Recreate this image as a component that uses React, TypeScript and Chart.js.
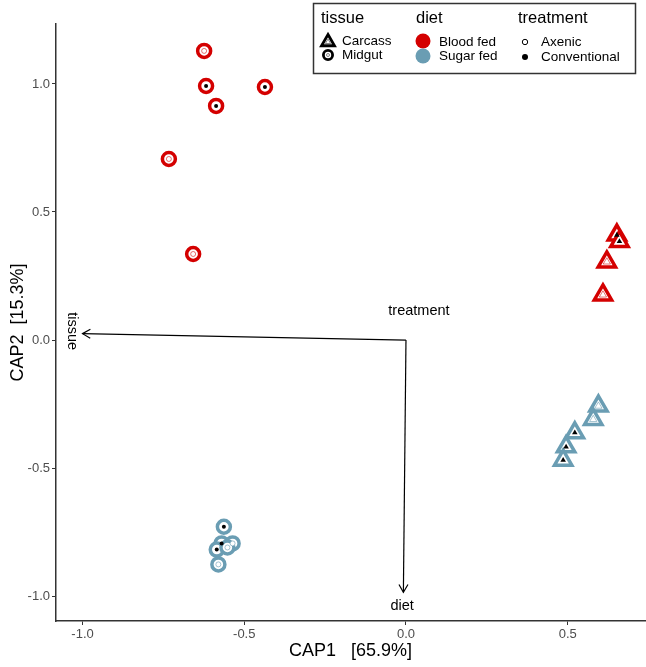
import React, { useEffect, useRef } from 'react';
import { Chart, registerables } from 'chart.js';

Chart.register(...registerables);

const RED = '#D40000';
const RED_LIGHT = 'rgba(212,0,0,0.55)';
const BLUE = '#6A9DB3';
const BLUE_LIGHT = 'rgba(106,157,179,0.6)';
const FONT = "'Liberation Sans', Arial, Helvetica, sans-serif";

// Axis ticks
const xTicks = [-1.0, -0.5, 0.0, 0.5];
const yTicks = [-1.0, -0.5, 0.0, 0.5, 1.0];

// Midgut, blood fed
const midgutBloodX = [-0.624, -0.618, -0.436, -0.587, -0.733, -0.658];
const midgutBloodY = [1.129, 0.992, 0.988, 0.914, 0.707, 0.336];
const midgutBloodTreatment = ['Axenic', 'Conventional', 'Conventional', 'Conventional', 'Axenic', 'Axenic'];

// Carcass, blood fed
const carcassBloodX = [0.652, 0.66, 0.621, 0.609];
const carcassBloodY = [0.41, 0.385, 0.305, 0.176];
const carcassBloodTreatment = ['Conventional', 'Conventional', 'Axenic', 'Axenic'];

// Carcass, sugar fed
const carcassSugarX = [0.595, 0.579, 0.522, 0.495, 0.486];
const carcassSugarY = [-0.258, -0.31, -0.362, -0.417, -0.469];
const carcassSugarTreatment = ['Axenic', 'Axenic', 'Conventional', 'Conventional', 'Conventional'];

// Midgut, sugar fed
const midgutSugarX = [-0.563, -0.57, -0.585, -0.536, -0.552, -0.58];
const midgutSugarY = [-0.729, -0.794, -0.818, -0.794, -0.81, -0.876];
const midgutSugarTreatment = ['Conventional', 'Conventional', 'Conventional', 'Axenic', 'Axenic', 'Axenic'];

// Biplot arrows (from origin)
const arrowNames = ['tissue', 'diet'];
const arrowEndX = [-1.0, -0.008];
const arrowEndY = [0.025, -0.985];

// Biplot labels
const labelNames = ['tissue', 'diet', 'treatment'];
const labelX = [-1.032, -0.012, 0.04];
const labelY = [0.035, -1.04, 0.113];
const labelRotated = [true, false, false];

function toPoints(xs: number[], ys: number[]) {
  return xs.map((x, i) => ({ x, y: ys[i] }));
}

function outerSet(xs: number[], ys: number[], style: string, color: string) {
  return {
    data: toPoints(xs, ys),
    pointStyle: style,
    pointRadius: style === 'circle' ? 6.5 : 10,
    pointBorderWidth: 3.5,
    pointBorderColor: color,
    pointBackgroundColor: '#ffffff',
    showLine: false,
    order: 1,
  };
}

function innerSet(xs: number[], ys: number[], tr: string[], style: string, light: string) {
  const isAx = (i: number) => tr[i] === 'Axenic';
  return {
    data: toPoints(xs, ys),
    pointStyle: style,
    pointRadius: (c: any) => (isAx(c.dataIndex) ? (style === 'circle' ? 2.5 : 4.2) : (style === 'circle' ? 2 : 3.2)),
    pointBorderWidth: (c: any) => (isAx(c.dataIndex) ? 1 : 0),
    pointBorderColor: (c: any) => (isAx(c.dataIndex) ? light : '#000000'),
    pointBackgroundColor: (c: any) => (isAx(c.dataIndex) ? '#ffffff' : '#000000'),
    showLine: false,
    order: 0,
  };
}

function drawTri(ctx: CanvasRenderingContext2D, x: number, y: number, r: number) {
  ctx.beginPath();
  for (let k = 0; k < 3; k++) {
    const a = -Math.PI / 2 + (k * 2 * Math.PI) / 3;
    const px = x + Math.cos(a) * r;
    const py = y + Math.sin(a) * r;
    if (k === 0) ctx.moveTo(px, py);
    else ctx.lineTo(px, py);
  }
  ctx.closePath();
}

const arrowsPlugin = {
  id: 'biplotArrows',
  afterDatasetsDraw(chart: any) {
    const { ctx, scales } = chart;
    const xs = scales.x;
    const ys = scales.y;
    const ox = xs.getPixelForValue(0);
    const oy = ys.getPixelForValue(0);
    ctx.save();
    ctx.strokeStyle = '#000';
    ctx.lineWidth = 1.2;
    arrowNames.forEach((_, i) => {
      const ex = xs.getPixelForValue(arrowEndX[i]);
      const ey = ys.getPixelForValue(arrowEndY[i]);
      ctx.beginPath();
      ctx.moveTo(ox, oy);
      ctx.lineTo(ex, ey);
      ctx.stroke();
      const ang = Math.atan2(ey - oy, ex - ox);
      const h = 9;
      const spread = Math.PI / 6;
      ctx.beginPath();
      ctx.moveTo(ex - h * Math.cos(ang - spread), ey - h * Math.sin(ang - spread));
      ctx.lineTo(ex, ey);
      ctx.lineTo(ex - h * Math.cos(ang + spread), ey - h * Math.sin(ang + spread));
      ctx.stroke();
    });
    ctx.fillStyle = '#000';
    ctx.font = `14.5px ${FONT}`;
    ctx.textAlign = 'center';
    ctx.textBaseline = 'middle';
    labelNames.forEach((name, i) => {
      const px = xs.getPixelForValue(labelX[i]);
      const py = ys.getPixelForValue(labelY[i]);
      ctx.save();
      ctx.translate(px, py);
      if (labelRotated[i]) ctx.rotate(Math.PI / 2);
      ctx.fillText(name, 0, 0);
      ctx.restore();
    });
    ctx.restore();
  },
};

const legendPlugin = {
  id: 'cornerLegend',
  afterDraw(chart: any) {
    const ctx: CanvasRenderingContext2D = chart.ctx;
    ctx.save();
    ctx.fillStyle = '#ffffff';
    ctx.fillRect(313, 3, 322, 70);
    ctx.strokeStyle = '#333333';
    ctx.lineWidth = 1.5;
    ctx.strokeRect(313.5, 3.5, 322, 70);

    ctx.fillStyle = '#000';
    ctx.textBaseline = 'middle';
    ctx.textAlign = 'left';
    ctx.font = `16.5px ${FONT}`;
    ctx.fillText('tissue', 321, 18);
    ctx.fillText('diet', 416, 18);
    ctx.fillText('treatment', 518, 18);

    ctx.font = `13.5px ${FONT}`;
    ctx.fillText('Carcass', 342, 41);
    ctx.fillText('Midgut', 342, 55);
    ctx.fillText('Blood fed', 439, 42);
    ctx.fillText('Sugar fed', 439, 56);
    ctx.fillText('Axenic', 541, 42);
    ctx.fillText('Conventional', 541, 57);

    // tissue symbols
    ctx.strokeStyle = '#000';
    ctx.lineWidth = 2.8;
    ctx.lineJoin = 'miter';
    drawTri(ctx, 328, 42, 7.5);
    ctx.stroke();
    ctx.lineWidth = 0.8;
    ctx.strokeStyle = '#666';
    drawTri(ctx, 328, 42, 3);
    ctx.stroke();
    ctx.strokeStyle = '#000';
    ctx.lineWidth = 2.8;
    ctx.beginPath();
    ctx.arc(328, 55, 4.6, 0, Math.PI * 2);
    ctx.stroke();
    ctx.lineWidth = 0.8;
    ctx.strokeStyle = '#666';
    ctx.beginPath();
    ctx.arc(328, 55, 1.5, 0, Math.PI * 2);
    ctx.stroke();

    // diet symbols
    ctx.fillStyle = RED;
    ctx.beginPath();
    ctx.arc(423, 41, 7.5, 0, Math.PI * 2);
    ctx.fill();
    ctx.fillStyle = BLUE;
    ctx.beginPath();
    ctx.arc(423, 56, 7.5, 0, Math.PI * 2);
    ctx.fill();

    // treatment symbols
    ctx.strokeStyle = '#000';
    ctx.lineWidth = 1;
    ctx.beginPath();
    ctx.arc(525, 42, 2.7, 0, Math.PI * 2);
    ctx.stroke();
    ctx.fillStyle = '#000';
    ctx.beginPath();
    ctx.arc(525, 57, 3, 0, Math.PI * 2);
    ctx.fill();
    ctx.restore();
  },
};

export default function App() {
  const ref = useRef<HTMLCanvasElement | null>(null);

  useEffect(() => {
    if (!ref.current) return;
    const tickFont = { family: FONT, size: 13 };
    const chart = new Chart(ref.current, {
      type: 'scatter',
      data: {
        datasets: [
          outerSet(midgutBloodX, midgutBloodY, 'circle', RED),
          outerSet(carcassBloodX, carcassBloodY, 'triangle', RED),
          outerSet(carcassSugarX, carcassSugarY, 'triangle', BLUE),
          outerSet(midgutSugarX, midgutSugarY, 'circle', BLUE),
          innerSet(midgutBloodX, midgutBloodY, midgutBloodTreatment, 'circle', RED_LIGHT),
          innerSet(carcassBloodX, carcassBloodY, carcassBloodTreatment, 'triangle', RED_LIGHT),
          innerSet(carcassSugarX, carcassSugarY, carcassSugarTreatment, 'triangle', BLUE_LIGHT),
          innerSet(midgutSugarX, midgutSugarY, midgutSugarTreatment, 'circle', BLUE_LIGHT),
        ] as any,
      },
      options: {
        animation: false,
        responsive: true,
        maintainAspectRatio: false,
        layout: { autoPadding: false, padding: { top: 24, right: 1, left: 0, bottom: 0 } },
        plugins: { legend: { display: false }, tooltip: { enabled: false } },
        scales: {
          x: {
            type: 'linear',
            min: -1.082,
            max: 0.739,
            afterBuildTicks: (s: any) => {
              s.ticks = xTicks.map((v) => ({ value: v }));
            },
            afterFit: (s: any) => {
              s.height = 46;
              s.paddingLeft = 0;
              s.paddingRight = 0;
            },
            ticks: {
              callback: (v: any) => Number(v).toFixed(1),
              color: '#4D4D4D',
              font: tickFont,
              padding: 2,
            },
            grid: { drawOnChartArea: false, drawTicks: true, tickLength: 4, color: '#333333', lineWidth: 1 },
            border: { display: true, color: '#333333', width: 1.5 },
            title: {
              display: true,
              text: 'CAP1   [65.9%]',
              color: '#000',
              font: { family: FONT, size: 18 },
              padding: { top: 0, bottom: 5 },
            },
          },
          y: {
            type: 'linear',
            min: -1.097,
            max: 1.234,
            afterBuildTicks: (s: any) => {
              s.ticks = yTicks.map((v) => ({ value: v }));
            },
            afterFit: (s: any) => {
              s.width = 56;
              s.paddingTop = 0;
              s.paddingBottom = 0;
            },
            ticks: {
              callback: (v: any) => Number(v).toFixed(1),
              color: '#4D4D4D',
              font: tickFont,
              padding: 2,
            },
            grid: { drawOnChartArea: false, drawTicks: true, tickLength: 4, color: '#333333', lineWidth: 1 },
            border: { display: true, color: '#333333', width: 1.5 },
            title: {
              display: true,
              text: 'CAP2  [15.3%]',
              color: '#000',
              font: { family: FONT, size: 18 },
              padding: { top: 7, bottom: 0 },
            },
          },
        },
      } as any,
      plugins: [arrowsPlugin, legendPlugin],
    });
    return () => chart.destroy();
  }, []);

  return (
    <div style={{ position: 'fixed', left: 0, top: 0, width: 646, height: 667, background: '#fff' }}>
      <canvas ref={ref} />
    </div>
  );
}
